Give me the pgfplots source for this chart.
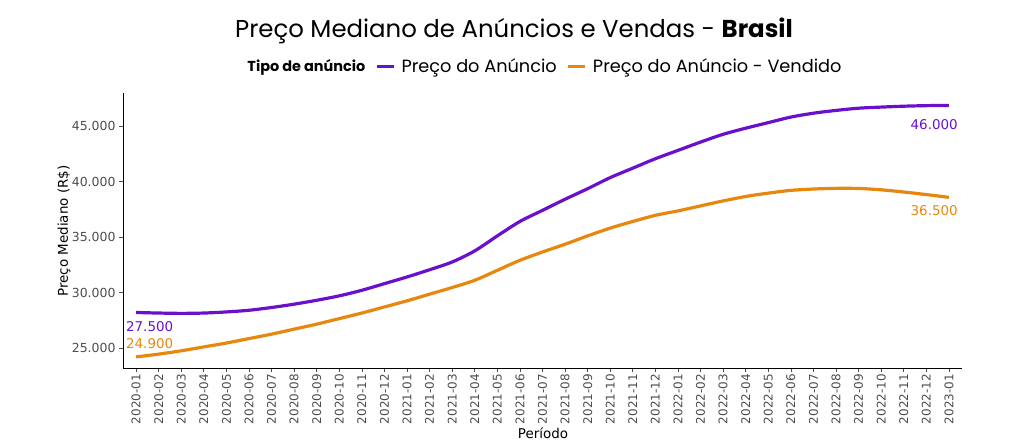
\documentclass[border=0pt]{standalone}
\usepackage{fontspec}
\setmainfont{DejaVu Sans}
\newfontfamily\titlefont{Poppins}
\usepackage{pgfplots}
\pgfplotsset{compat=1.18}
\usepackage{pgfplotstable}
\definecolor{cpurple}{HTML}{6A10CC}
\definecolor{corange}{HTML}{E8870E}
\definecolor{tickgray}{HTML}{4D4D4D}

\pgfplotstableread{
m anuncio vendido
0 28200 24200
1 28150 24450
2 28120 24750
3 28150 25100
4 28250 25450
5 28400 25850
6 28650 26250
7 28950 26700
8 29300 27150
9 29700 27650
10 30200 28150
11 30800 28700
12 31400 29250
13 32050 29850
14 32750 30450
15 33750 31100
16 35100 32000
17 36400 32900
18 37400 33650
19 38400 34350
20 39350 35100
21 40350 35800
22 41200 36400
23 42050 36950
24 42800 37350
25 43550 37800
26 44250 38250
27 44800 38650
28 45300 38950
29 45800 39200
30 46150 39320
31 46400 39380
32 46600 39370
33 46700 39250
34 46780 39050
35 46830 38820
36 46850 38570
}\data

\begin{document}
\begin{tikzpicture}
\path[use as bounding box] (0bp,0bp) rectangle (1020bp,448bp);
\begin{axis}[
  at={(123bp,80bp)}, anchor=south west,
  width=839bp, height=275bp, scale only axis,
  xmin=-0.58, xmax=36.58, ymin=23200, ymax=47970,
  axis x line=bottom, axis y line=left,
  axis line style={-, black, line width=0.9bp},
  tick align=outside, major tick length=4bp,
  tick style={tickgray, line width=0.7bp},
  scaled y ticks=false,
  xtick={0,...,36},
  xticklabels={2020-01,2020-02,2020-03,2020-04,2020-05,2020-06,2020-07,2020-08,2020-09,2020-10,2020-11,2020-12,
    2021-01,2021-02,2021-03,2021-04,2021-05,2021-06,2021-07,2021-08,2021-09,2021-10,2021-11,2021-12,
    2022-01,2022-02,2022-03,2022-04,2022-05,2022-06,2022-07,2022-08,2022-09,2022-10,2022-11,2022-12,2023-01},
  x tick label style={rotate=90, anchor=east, font=\fontsize{12}{12}\selectfont, text=tickgray, inner sep=2bp},
  ytick={25000,30000,35000,40000,45000},
  yticklabels={25.000,30.000,35.000,40.000,45.000},
  y tick label style={font=\fontsize{12.5}{12.5}\selectfont, text=tickgray},
  clip=false,
  legend columns=-1,
  legend style={at={(0.5,1.0)}, anchor=south, yshift=15bp, draw=none, fill=none,
    font=\titlefont\fontsize{17.8}{17.8}\selectfont,
    /tikz/every even column/.append style={column sep=8bp},
    /tikz/every odd column/.append style={column sep=4bp}},
  legend image code/.code={\draw[#1, line width=3.2bp] (0bp,0bp) -- (17bp,0bp);},
]
\addlegendimage{empty legend}
\addlegendentry{\fontsize{14.5}{14.5}\selectfont\bfseries Tipo de anúncio}
\addplot[cpurple, line width=3.2bp, smooth] table[x=m, y=anuncio] {\data};
\addlegendentry{Preço do Anúncio}
\addplot[corange, line width=3.2bp, smooth] table[x=m, y=vendido] {\data};
\addlegendentry{Preço do Anúncio - Vendido}
\node[anchor=west, text=cpurple, font=\fontsize{13.5}{13.5}\selectfont, inner sep=0pt] at (axis cs:-0.45,26890) {27.500};
\node[anchor=west, text=corange, font=\fontsize{13.5}{13.5}\selectfont, inner sep=0pt] at (axis cs:-0.45,25360) {24.900};
\node[anchor=east, text=cpurple, font=\fontsize{13.5}{13.5}\selectfont, inner sep=0pt] at (axis cs:36.4,45090) {46.000};
\node[anchor=east, text=corange, font=\fontsize{13.5}{13.5}\selectfont, inner sep=0pt] at (axis cs:36.4,37340) {36.500};
\end{axis}
\node[font=\titlefont\fontsize{24.5}{24.5}\selectfont] at (514bp,417bp) {Preço Mediano de Anúncios e Vendas - \textbf{Brasil}};
\node[font=\fontsize{13.5}{13.5}\selectfont] at (543bp,15bp) {Período};
\node[font=\fontsize{13.5}{13.5}\selectfont, rotate=90] at (64bp,217bp) {Preço Mediano (R\$)};
\end{tikzpicture}
\end{document}
